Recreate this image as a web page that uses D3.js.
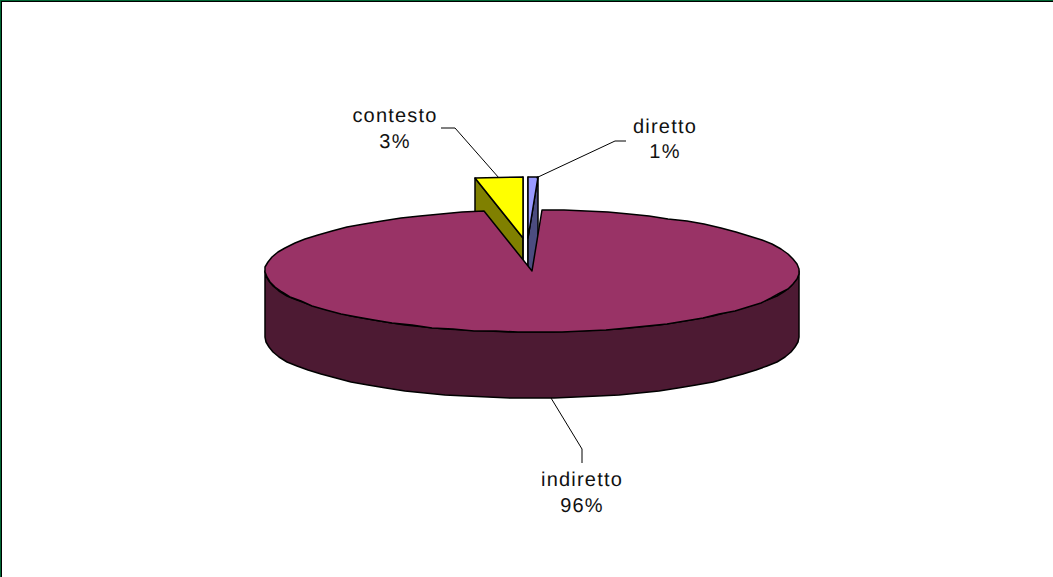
<!DOCTYPE html>
<html>
<head>
<meta charset="utf-8">
<script src="https://cdn.jsdelivr.net/npm/d3@7"></script>
<style>
html,body{margin:0;padding:0;background:#fff;overflow:hidden}
svg{display:block}
text{font-family:"Liberation Sans",Arial,sans-serif;font-size:20px;letter-spacing:1.2px;fill:#111;text-anchor:middle;text-rendering:geometricPrecision}
</style>
</head>
<body>
<svg id="chart" width="1053" height="577"></svg>
<script>
// Slice shares, in percent, listed clockwise from twelve o'clock
const categories = ["diretto", "indiretto", "contesto"];
const shares = [0.6, 96.4, 2.9];
const topColors = ["#9999ff", "#993366", "#ffff00"];
const wallColors = ["#4c4c80", "#4d1a33", "#808000"];

const width = 1053, height = 577;
const centre = {x: 532, y: 271}, radiusX = 267, radiusY = 61, depth = 66;

// Tilted disc: unit-circle coordinates to screen coordinates
const sx = d3.scaleLinear().domain([-1, 1]).range([centre.x - radiusX, centre.x + radiusX]);
const sy = d3.scaleLinear().domain([-1, 1]).range([centre.y - radiusY, centre.y + radiusY]);

const explode = {diretto: [-4.5, -33], indiretto: [0, 0], contesto: [-9, -33]};
const labelLayout = {
  diretto:   {x: 665, y: [133, 158], leader: [[536, 178], [615, 141], [626, 141]]},
  indiretto: {x: 582, y: [486, 512], leader: [[551, 398], [582, 449], [582, 463]]},
  contesto:  {x: 395, y: [122, 148], leader: [[441, 128], [455, 128], [499, 178]]}
};

const svg = d3.select("#chart");

// Chart-area frame
svg.append("rect").attr("x", 0.5).attr("y", 0.5).attr("width", width + 4).attr("height", height + 4)
  .attr("fill", "#fff").attr("stroke", "#006633").attr("stroke-width", 1);
svg.append("rect").attr("x", 1.5).attr("y", 1.5).attr("width", width + 4).attr("height", height + 4)
  .attr("fill", "none").attr("stroke", "#000").attr("stroke-width", 1);

const pie = d3.pie().sort(null).value(d => d.share);
const arcs = pie(categories.map((name, i) => ({
  name, share: shares[i], top: topColors[i], wall: wallColors[i]
})));

const line = d3.line();
// Rim vertices snap to whole pixels; thin slices keep a straight outer edge
const rim = (angle, off) => [Math.round(sx(Math.sin(angle)) + off[0]), Math.round(sy(-Math.cos(angle)) + off[1])];
const rimPoints = (a0, a1, off) => {
  const span = a1 - a0;
  const n = span < 0.5 ? 1 : Math.ceil(span * 12);
  return d3.range(n + 1).map(i => rim(a0 + span * i / n, off));
};
const drop = pts => pts.map(p => [p[0], p[1] + depth]);
const closed = pts => line(pts) + "Z";
const draw = (pathData, fill) => svg.append("path").attr("d", pathData)
  .attr("fill", fill).attr("stroke", "#000").attr("stroke-width", 1.5).attr("stroke-linejoin", "round");

// Pulled-out slices go first so the large slice overlaps their lower parts
arcs.filter(a => a.data.name !== "indiretto").forEach(a => {
  const off = explode[a.data.name];
  const apex = [Math.round(centre.x + off[0]), Math.round(centre.y + off[1])];
  const outer = rimPoints(a.startAngle, a.endAngle, off);
  const first = outer[0], last = outer[outer.length - 1];
  // Only the two cut faces can show above the large slice
  draw(closed([apex, first, ...drop([first]), ...drop([apex])]), a.data.wall);
  draw(closed([apex, last, ...drop([last]), ...drop([apex])]), a.data.wall);
  draw(closed([apex, ...outer]), a.data.top);
});

// Large slice: front wall, then its top face
const big = arcs.find(a => a.data.name === "indiretto");
const frontRim = rimPoints(Math.PI / 2, Math.PI * 1.5, [0, 0]);
draw(closed([...frontRim, ...drop(frontRim).reverse()]), big.data.wall);
draw(closed([[centre.x, centre.y], ...rimPoints(big.startAngle, big.endAngle, [0, 0])]), big.data.top);

// Leader lines and two-line labels; percentages are the shares rounded to whole numbers
const percent = d3.format(".0f");
arcs.forEach(a => {
  const layout = labelLayout[a.data.name];
  svg.append("path").attr("d", line(layout.leader)).attr("fill", "none")
    .attr("stroke", "#000").attr("stroke-width", 1);
  svg.append("text").attr("x", layout.x).attr("y", layout.y[0]).text(a.data.name);
  svg.append("text").attr("x", layout.x).attr("y", layout.y[1]).text(percent(a.data.share) + "%");
});
</script>
</body>
</html>
